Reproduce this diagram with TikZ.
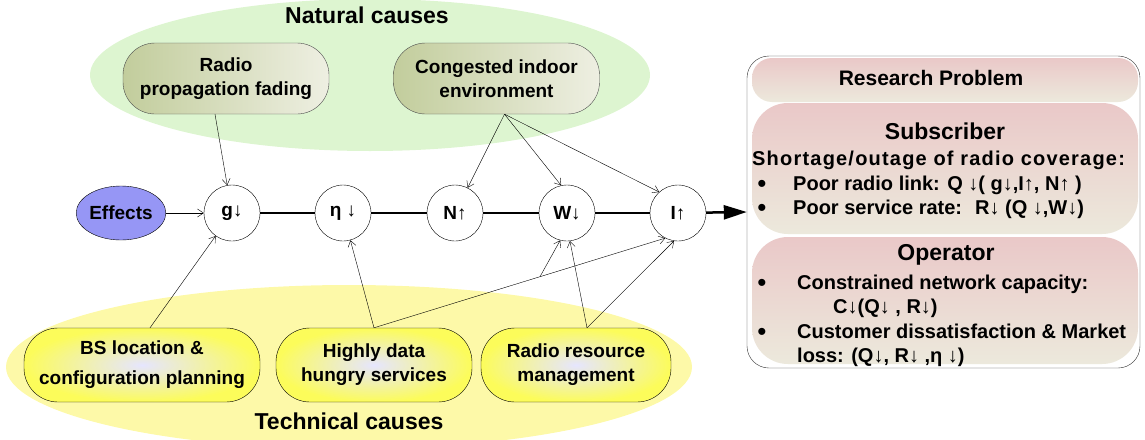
\documentclass[tikz,border=0pt]{standalone}
\usepackage{fontspec}
\setmainfont{Liberation Sans}
\usetikzlibrary{arrows.meta,shapes.geometric}
\definecolor{natgreen}{RGB}{221,245,208}
\definecolor{tecyellow}{RGB}{253,249,168}
\definecolor{olivedark}{RGB}{194,205,156}
\definecolor{olivelight}{RGB}{238,239,226}
\definecolor{effblue}{RGB}{150,150,245}
\definecolor{boxyellow}{RGB}{252,252,90}
\definecolor{rppink}{RGB}{234,200,200}
\definecolor{rpbeige}{RGB}{236,233,220}
\newcommand{\dn}{{\mdseries ↓}}
\newcommand{\up}{{\mdseries ↑}}

\begin{document}
\begin{tikzpicture}[x=1pt,y=-1pt]
\tikzstyle{every node}=[font=\fontsize{19}{24}\selectfont\bfseries]
\tikzstyle{cloud}=[ellipse,inner sep=0pt]
\tikzstyle{natbox}=[draw=black!70,rounded corners=32pt,left color=olivedark,right color=olivelight,minimum width=206pt,minimum height=71pt,align=center]
\tikzstyle{tecbox}=[draw,rounded corners=34pt,inner color=white!90!blue,outer color=boxyellow,minimum height=74pt,align=center]
\tikzstyle{effect}=[draw,circle,fill=white,minimum size=56pt,inner sep=0pt]
\tikzstyle{cause}=[-{Straight Barb[length=6pt,width=8pt]},thin]
\tikzstyle{rpbox}=[top color=rppink,bottom color=rpbeige,minimum width=386pt]
\tikzstyle{rphead}=[font=\fontsize{23}{26}\selectfont\bfseries]
\tikzstyle{rptext}=[font=\fontsize{20}{24}\selectfont\bfseries,anchor=base west,inner sep=0pt]
\tikzstyle{rpdot}=[font=\fontsize{26}{24}\selectfont,anchor=base,inner sep=0pt]

\useasboundingbox (0,0) rectangle (1145,439);

\node[cloud,fill=natgreen,minimum width=560pt,minimum height=152pt] (natural) at (370,75) {};
\node[cloud,fill=tecyellow,minimum width=686pt,minimum height=164pt] (technical) at (349,367) {};
\node[font=\fontsize{23}{26}\selectfont\bfseries] (naturallabel) at (367,15) {Natural causes};
\node[font=\fontsize{23}{26}\selectfont\bfseries] (technicallabel) at (349,421) {Technical causes};

\node[natbox] (radio) at (226,78.5) {Radio\\propagation fading};
\node[natbox] (cong) at (496.5,78.5) {Congested indoor\\environment};

\node[draw,ellipse,fill=effblue,minimum width=80pt,minimum height=54pt,inner sep=0pt] (eff) at (121,213) {Effects};
\node[effect] (g) at (232,213) {g\dn};
\node[effect] (eta) at (343,213) {η \dn};
\node[effect] (N) at (455,213) {N\up};
\node[effect] (W) at (567,213) {W\dn};
\node[effect] (I) at (678,213) {I\up};

\node[tecbox,minimum width=236pt] (bs) at (142,365) {BS location \&\\[6pt]configuration planning};
\node[tecbox,minimum width=196pt] (hd) at (374,365) {Highly data\\hungry services};
\node[tecbox,minimum width=190pt] (rrm) at (576,365) {Radio resource\\management};

\draw[line width=2.5pt] (g) -- (eta) -- (N) -- (W) -- (I);
\draw[cause] (eff) -- (g);
\draw[cause] ([xshift=-11pt]radio.south) -- (g);
\draw[cause] ([xshift=8pt]cong.south) -- (N);
\draw[cause] ([xshift=8pt]cong.south) -- (W.102);
\draw[cause] ([xshift=8pt]cong.south) -- (I.132);
\draw[cause] ([xshift=8pt]bs.north) -- (g);
\draw[cause] (hd.north) -- (eta);
\draw[cause] (hd.north) -- coordinate[pos=0.57] (br) (I.-117);
\draw[cause] (br) -- (W.-104);
\draw[cause] ([xshift=11pt]rrm.north) -- (W.-84);
\draw[cause] ([xshift=11pt]rrm.north) -- (I.-98);

\node[draw=black!80,fill=white,rounded corners=22pt,minimum width=393pt,minimum height=312pt] (rp) at (943.5,212) {};
\node[rpbox,rounded corners=20pt,minimum height=44pt] (rptop) at (945,80) {};
\node[rpbox,rounded corners=36pt,minimum height=131pt] (sub) at (945,168.5) {};
\node[rpbox,rounded corners=36pt,minimum height=127pt] (op) at (945,300.5) {};
\draw[line width=2.5pt,-{Triangle[length=23pt,width=14pt]}] (I) -- (rp.west);

\node[font=\fontsize{21}{24}\selectfont\bfseries] (rptitle) at (931,78) {Research Problem};
\node[rphead] (subtitle) at (945,131) {Subscriber};
\node[rptext] (short) at (752,165) {\addfontfeature{LetterSpace=6}Shortage/outage of radio coverage:};
\node[rpdot] (b1) at (762,192) {•};
\node[rptext] (link) at (793,190) {Poor radio link: Q \dn( g\dn,I\up, N\up~)};
\node[rpdot] (b2) at (762,216) {•};
\node[rptext] (rate) at (793,214) {Poor service rate:~ R\dn~(Q \dn,W\dn)};
\node[rphead] (optitle) at (946,255) {Operator};
\node[rpdot] (b3) at (762,291) {•};
\node[rptext] (cap) at (797,289) {Constrained network capacity:};
\node[rptext] (capv) at (833,313) {C\dn(Q\dn~, R\dn)};
\node[rpdot] (b4) at (762,340) {•};
\node[rptext] (cust) at (797,338) {Customer dissatisfaction \& Market};
\node[rptext] (loss) at (797,362) {loss: (Q\dn, R\dn~,η \dn)};
\end{tikzpicture}
\end{document}
